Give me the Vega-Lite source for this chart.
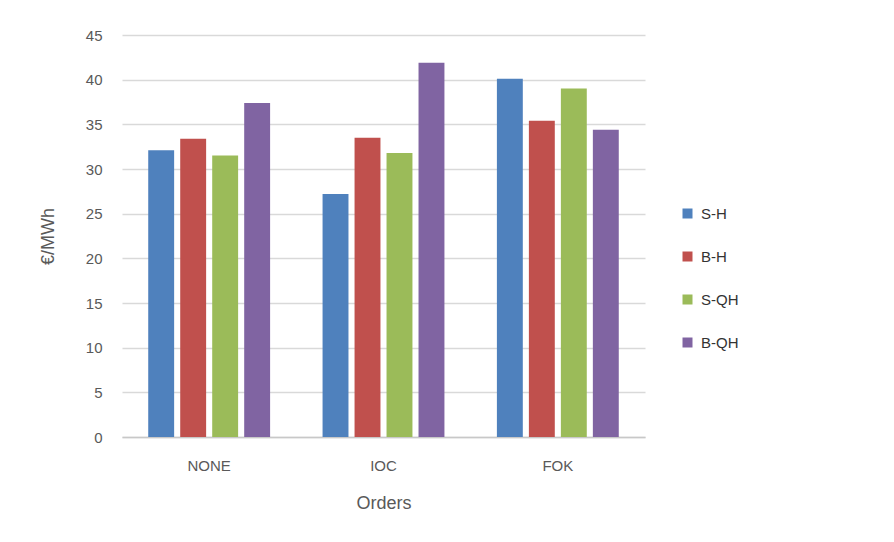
{
  "$schema": "https://vega.github.io/schema/vega-lite/v6.json",
  "autosize": "none",
  "width": 523,
  "height": 402,
  "padding": {"left": 122, "top": 35, "right": 249, "bottom": 105},
  "background": "white",
  "data": {
    "values": [
      {"order": "NONE", "series": "S-H", "value": 32.1},
      {"order": "NONE", "series": "B-H", "value": 33.4},
      {"order": "NONE", "series": "S-QH", "value": 31.5},
      {"order": "NONE", "series": "B-QH", "value": 37.4},
      {"order": "IOC", "series": "S-H", "value": 27.2},
      {"order": "IOC", "series": "B-H", "value": 33.5},
      {"order": "IOC", "series": "S-QH", "value": 31.8},
      {"order": "IOC", "series": "B-QH", "value": 41.9},
      {"order": "FOK", "series": "S-H", "value": 40.1},
      {"order": "FOK", "series": "B-H", "value": 35.4},
      {"order": "FOK", "series": "S-QH", "value": 39.0},
      {"order": "FOK", "series": "B-QH", "value": 34.4}
    ]
  },
  "mark": {"type": "bar"},
  "encoding": {
    "x": {
      "field": "order",
      "type": "nominal",
      "sort": ["NONE", "IOC", "FOK"],
      "scale": {"paddingInner": 0, "paddingOuter": 0},
      "axis": {
        "title": "Orders",
        "titleFont": "Liberation Sans",
        "titleFontSize": 18,
        "titleFontWeight": "normal",
        "titleColor": "#595959",
        "titlePadding": 21,
        "labelFont": "Liberation Sans",
        "labelFontSize": 15,
        "labelColor": "#595959",
        "labelAngle": 0,
        "labelPadding": 21,
        "ticks": false,
        "domainColor": "#c8c8c8",
        "domainWidth": 1.5,
        "grid": false
      }
    },
    "xOffset": {
      "field": "series",
      "type": "nominal",
      "sort": ["S-H", "B-H", "S-QH", "B-QH"],
      "scale": {"paddingInner": 0.19, "paddingOuter": 0.82}
    },
    "y": {
      "field": "value",
      "type": "quantitative",
      "scale": {"domain": [0, 45]},
      "axis": {
        "title": "€/MWh",
        "titleFont": "Liberation Sans",
        "titleFontSize": 18,
        "titleFontWeight": "normal",
        "titleColor": "#595959",
        "titlePadding": 28,
        "values": [0, 5, 10, 15, 20, 25, 30, 35, 40, 45],
        "labelFont": "Liberation Sans",
        "labelFontSize": 15,
        "labelColor": "#595959",
        "labelPadding": 20,
        "ticks": false,
        "domain": false,
        "gridColor": "#d9d9d9",
        "gridWidth": 1.5
      }
    },
    "color": {
      "field": "series",
      "type": "nominal",
      "sort": ["S-H", "B-H", "S-QH", "B-QH"],
      "scale": {
        "domain": ["S-H", "B-H", "S-QH", "B-QH"],
        "range": ["#4f81bd", "#c0504d", "#9bbb59", "#8064a2"]
      },
      "legend": {
        "title": null,
        "orient": "none",
        "legendX": 558,
        "legendY": 171,
        "symbolType": "square",
        "symbolSize": 100,
        "symbolStrokeWidth": 0,
        "labelFont": "Liberation Sans",
        "labelFontSize": 15,
        "labelColor": "#333333",
        "rowPadding": 27,
        "labelOffset": 6
      }
    }
  },
  "config": {
    "view": {"stroke": null}
  }
}
